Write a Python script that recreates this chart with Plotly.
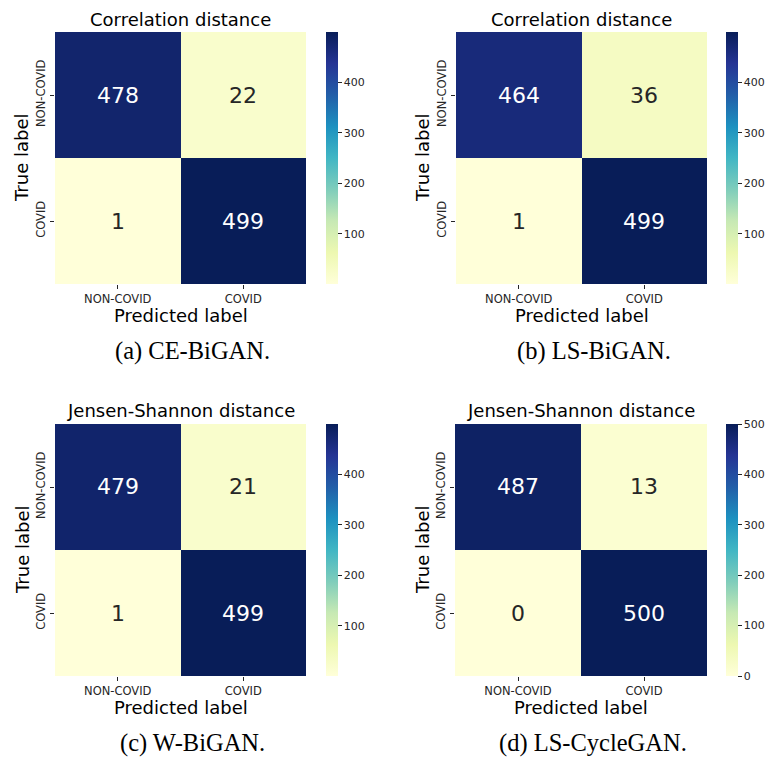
import plotly.graph_objects as go

# Confusion matrices (rows: true label, cols: predicted label)
classes = ["NON-COVID", "COVID"]
ce_bigan = [[478, 22], [1, 499]]
ls_bigan = [[464, 36], [1, 499]]
w_bigan = [[479, 21], [1, 499]]
ls_cyclegan = [[487, 13], [0, 500]]

titles = ["Correlation distance", "Correlation distance",
          "Jensen-Shannon distance", "Jensen-Shannon distance"]
captions = ["(a) CE-BiGAN.", "(b) LS-BiGAN.", "(c) W-BiGAN.", "(d) LS-CycleGAN."]
cbar_ticks = [[100, 200, 300, 400], [100, 200, 300, 400],
              [100, 200, 300, 400], [0, 100, 200, 300, 400, 500]]
matrices = [ce_bigan, ls_bigan, w_bigan, ls_cyclegan]

W, H = 768, 760
YLGNBU = [[0.0, "#ffffd9"], [0.125, "#edf8b1"], [0.25, "#c7e9b4"],
          [0.375, "#7fcdbb"], [0.5, "#41b6c4"], [0.625, "#1d91c0"],
          [0.75, "#225ea8"], [0.875, "#253494"], [1.0, "#081d58"]]
DARK = "#262626"

# panel boxes in pixels: left, right, top, bottom of the heatmap area
boxes = [(55, 306, 32, 284), (456, 707, 32, 284),
         (55, 306, 424, 676), (455, 707, 424, 676)]
cbar_left = [326, 726, 326, 726]


def px(x):
    return x / W


def py(y):
    return 1 - y / H


fig = go.Figure()
annotations = []

for i, (z, box) in enumerate(zip(matrices, boxes)):
    l, r, t, b = box
    n = i + 1
    xa = "x" if n == 1 else f"x{n}"
    ya = "y" if n == 1 else f"y{n}"
    flat = [v for row in z for v in row]
    zmin, zmax = min(flat), max(flat)
    fig.add_trace(go.Heatmap(
        z=z, x=classes, y=classes, xaxis=xa, yaxis=ya,
        zmin=zmin, zmax=zmax, colorscale=YLGNBU, xgap=0, ygap=0,
        hoverinfo="skip",
        colorbar=dict(
            thickness=12, thicknessmode="pixels",
            len=b - t, lenmode="pixels",
            x=px(cbar_left[i]), xanchor="left", xpad=0,
            y=py((t + b) / 2), yanchor="middle", ypad=0,
            outlinewidth=0, ticks="outside", ticklen=4, tickwidth=1,
            tickcolor=DARK, tickvals=cbar_ticks[i],
            tickfont=dict(family="DejaVu Sans", size=11, color=DARK),
        ),
    ))
    axis_common = dict(
        ticks="outside", ticklen=4, tickwidth=1, tickcolor=DARK,
        showgrid=False, zeroline=False, showline=False, fixedrange=True,
        tickfont=dict(family="DejaVu Sans", size=11.5, color=DARK),
    )
    fig.update_layout({
        f"xaxis{'' if n == 1 else n}": dict(
            domain=[px(l), px(r)], anchor=ya, **axis_common),
        f"yaxis{'' if n == 1 else n}": dict(
            domain=[py(b), py(t)], anchor=xa, autorange="reversed",
            tickangle=-90, **axis_common),
    })

    # cell value labels
    mid = (zmin + zmax) / 2
    for ri, row in enumerate(z):
        for ci, v in enumerate(row):
            annotations.append(dict(
                x=classes[ci], y=classes[ri], xref=xa, yref=ya,
                text=str(v), showarrow=False,
                font=dict(family="DejaVu Sans", size=22,
                          color="white" if v > mid else DARK),
            ))

    cx = (l + r) / 2
    annotations.append(dict(
        x=px(cx), y=py(t - 13), xref="paper", yref="paper",
        text=titles[i], showarrow=False, xanchor="center", yanchor="middle",
        font=dict(family="DejaVu Sans", size=18, color="black")))
    annotations.append(dict(
        x=px(cx), y=py(b + 31), xref="paper", yref="paper",
        text="Predicted label", showarrow=False,
        xanchor="center", yanchor="middle",
        font=dict(family="DejaVu Sans", size=18, color="black")))
    annotations.append(dict(
        x=px(l - 33), y=py((t + b) / 2), xref="paper", yref="paper",
        text="True label", showarrow=False, textangle=-90,
        xanchor="center", yanchor="middle",
        font=dict(family="DejaVu Sans", size=18, color="black")))
    annotations.append(dict(
        x=px(cx + 12), y=py(b + 67), xref="paper", yref="paper",
        text=captions[i], showarrow=False, xanchor="center", yanchor="middle",
        font=dict(family="Liberation Serif", size=24.5, color="black")))

fig.update_layout(
    width=W, height=H, margin=dict(l=0, r=0, t=0, b=0),
    paper_bgcolor="white", plot_bgcolor="white",
    annotations=annotations, showlegend=False,
)

fig.write_html("out.html")
